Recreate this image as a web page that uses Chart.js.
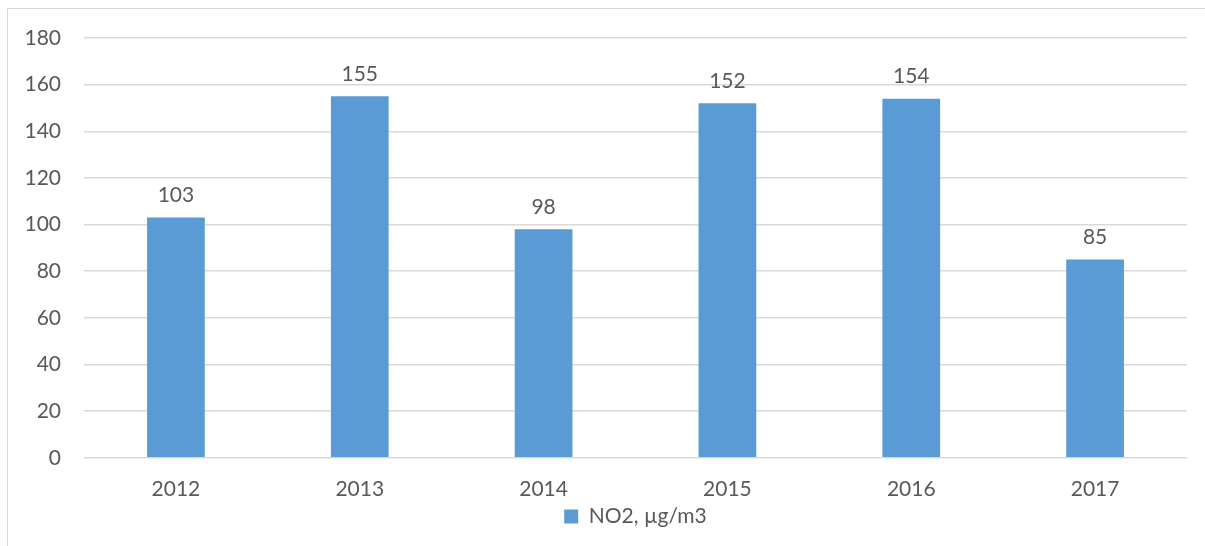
<!DOCTYPE html>
<html>
<head>
<meta charset="utf-8">
<script src="https://cdn.jsdelivr.net/npm/chart.js@4/dist/chart.umd.min.js"></script>
<style>
  html, body { margin: 0; padding: 0; background: #fff; }
  #wrap { position: relative; width: 1205px; height: 546px; overflow: hidden; }
  #frame { position: absolute; left: 7px; top: 8px; width: 1300px; height: 700px; border: 1px solid #d9d9d9; }
  canvas { position: absolute; left: 0; top: 0; }
</style>
</head>
<body>
<div id="wrap">
  <div id="frame"></div>
  <canvas id="no2Chart" width="1205" height="546"></canvas>
</div>
<script>
const years = ['2012', '2013', '2014', '2015', '2016', '2017'];
const no2Values = [103, 155, 98, 152, 154, 85];
const seriesLabel = 'NO2, µg/m3';

const TEXT_COLOR = '#595959';
const BAR_COLOR = '#5B9BD5';
const FONT = 'Lato, "Open Sans", sans-serif';
const FONT_SIZE = 21;

// value labels above each bar
const barValueLabels = {
    id: 'barValueLabels',
    afterDatasetsDraw(chart) {
        const ctx = chart.ctx;
        const meta = chart.getDatasetMeta(0);
        ctx.save();
        ctx.font = FONT_SIZE + 'px ' + FONT;
        ctx.fillStyle = TEXT_COLOR;
        ctx.textAlign = 'center';
        ctx.textBaseline = 'middle';
        meta.data.forEach((bar, i) => {
            ctx.fillText(String(no2Values[i]), bar.x, bar.y - 22);
        });
        ctx.restore();
    }
};

const ctx = document.getElementById('no2Chart').getContext('2d');
new Chart(ctx, {
    type: 'bar',
    data: {
        labels: years,
        datasets: [{
            label: seriesLabel,
            data: no2Values,
            backgroundColor: BAR_COLOR,
            borderWidth: 0,
            barPercentage: 0.314,
            categoryPercentage: 1.0
        }]
    },
    options: {
        responsive: false,
        animation: false,
        layout: { padding: { left: 0, right: 18, top: 38, bottom: 9 } },
        scales: {
            x: {
                grid: { display: false, drawTicks: false },
                border: { display: false },
                ticks: { color: TEXT_COLOR, font: { size: FONT_SIZE, family: FONT }, padding: 19 },
                afterFit(scale) { scale.height = scale.height - 21; }
            },
            y: {
                min: 0,
                max: 180,
                ticks: { stepSize: 20, color: TEXT_COLOR, font: { size: FONT_SIZE, family: FONT }, padding: 23 },
                grid: { color: '#d9d9d9', lineWidth: 1.5, drawTicks: false },
                border: { display: false },
                afterFit(scale) { scale.width = 84; }
            }
        },
        plugins: {
            legend: {
                position: 'bottom',
                fullSize: false,
                labels: {
                    color: TEXT_COLOR,
                    font: { size: FONT_SIZE, family: FONT },
                    boxWidth: 14,
                    boxHeight: 14,
                    padding: 6
                }
            },
            tooltip: { enabled: false }
        }
    },
    plugins: [barValueLabels]
});
</script>
</body>
</html>
